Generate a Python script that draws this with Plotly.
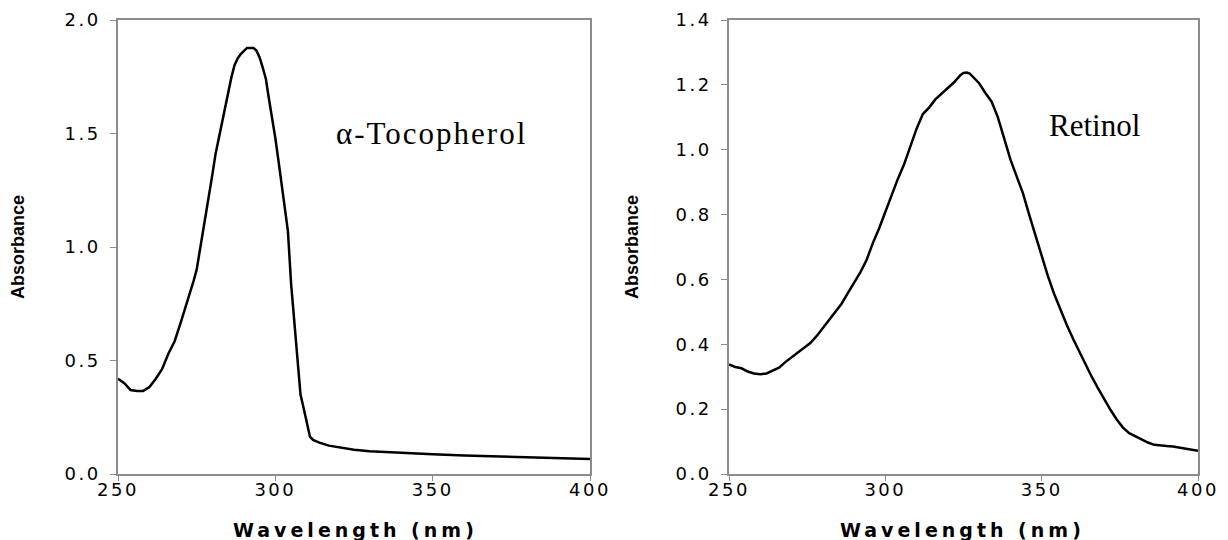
import plotly.graph_objects as go

# ---------------- data ----------------
toc_wavelength = [250, 252, 254, 256, 258, 260, 262, 264, 266, 268, 270, 272, 274, 275, 276, 277, 278, 279,
                  280, 281, 282, 283, 284, 285, 286, 287, 288, 289, 290, 291, 292, 293, 294, 295, 296, 297,
                  298, 299, 300, 301, 302, 303, 304, 305, 306, 307, 308, 309, 310, 311, 312, 314, 317, 320,
                  325, 330, 340, 350, 360, 370, 380, 390, 400]
toc_absorbance = [0.42, 0.40, 0.37, 0.366, 0.366, 0.383, 0.42, 0.462, 0.53, 0.585, 0.67, 0.755, 0.85, 0.90,
                  0.98, 1.07, 1.15, 1.23, 1.32, 1.41, 1.48, 1.55, 1.62, 1.68, 1.745, 1.80, 1.83, 1.85, 1.865,
                  1.877, 1.877, 1.877, 1.865, 1.835, 1.79, 1.74, 1.65, 1.57, 1.48, 1.38, 1.27, 1.18, 1.07,
                  0.84, 0.67, 0.49, 0.35, 0.29, 0.23, 0.165, 0.15, 0.138, 0.125, 0.117, 0.107, 0.10, 0.092,
                  0.087, 0.081, 0.077, 0.075, 0.072, 0.066]

ret_wavelength = [250, 252, 254, 256, 258, 260, 262, 264, 266, 268, 270, 272, 274, 276, 278, 280, 282, 284,
                  286, 288, 290, 292, 294, 296, 298, 300, 302, 304, 306, 308, 310, 312, 314, 316, 318, 320,
                  322, 324, 325, 326, 327, 328, 330, 332, 334, 336, 338, 340, 342, 344, 346, 348, 350, 352,
                  354, 356, 358, 360, 362, 364, 366, 368, 370, 372, 374, 376, 378, 380, 382, 384, 386, 388,
                  390, 392, 394, 396, 398, 400]
ret_absorbance = [0.338, 0.33, 0.326, 0.316, 0.31, 0.308, 0.31, 0.318, 0.328, 0.345, 0.36, 0.375, 0.39,
                  0.404, 0.425, 0.45, 0.473, 0.497, 0.525, 0.558, 0.59, 0.622, 0.66, 0.712, 0.757, 0.81,
                  0.86, 0.91, 0.955, 1.01, 1.065, 1.11, 1.13, 1.155, 1.173, 1.19, 1.208, 1.23, 1.237,
                  1.238, 1.235, 1.225, 1.205, 1.175, 1.148, 1.10, 1.035, 0.97, 0.918, 0.866, 0.80, 0.735,
                  0.67, 0.61, 0.555, 0.505, 0.46, 0.418, 0.377, 0.338, 0.30, 0.265, 0.23, 0.198, 0.168,
                  0.143, 0.126, 0.116, 0.105, 0.097, 0.09, 0.087, 0.086, 0.085, 0.082, 0.078, 0.075, 0.072]

x_ticks = [250, 300, 350, 400]
toc_y_ticks = [0.0, 0.5, 1.0, 1.5, 2.0]
ret_y_ticks = [0.0, 0.2, 0.4, 0.6, 0.8, 1.0, 1.2, 1.4]

x_title = "Wavelength (nm)"
y_title = "Absorbance"
toc_label = "α-Tocopherol"
ret_label = "Retinol"

# ---------------- figure ----------------
W, H = 1228, 540
FRAME = "#8c8c8c"
TICKFONT = dict(family="DejaVu Sans", size=18, color="black")

fig = go.Figure()
fig.add_trace(go.Scatter(x=toc_wavelength, y=toc_absorbance, mode="lines",
                         line=dict(color="black", width=2.5), xaxis="x", yaxis="y", showlegend=False))
fig.add_trace(go.Scatter(x=ret_wavelength, y=ret_absorbance, mode="lines",
                         line=dict(color="black", width=2.5), xaxis="x2", yaxis="y2", showlegend=False))

def xax(domain, anchor):
    return dict(domain=domain, anchor=anchor, range=[250, 400], tickvals=x_ticks, automargin=False,
                showgrid=False, zeroline=False, showline=True, linecolor=FRAME, linewidth=1.5,
                mirror=True, ticks="outside", ticklen=5, tickcolor=FRAME, tickwidth=1,
                tickfont=TICKFONT, ticklabelstandoff=-6)

def yax(domain, anchor, rng, ticks):
    return dict(domain=domain, anchor=anchor, range=rng, tickvals=ticks, tickformat=".1f", automargin=False,
                showgrid=False, zeroline=False, showline=True, linecolor=FRAME, linewidth=1.5,
                mirror=True, ticks="outside", ticklen=6, tickcolor=FRAME, tickwidth=1,
                tickfont=TICKFONT, ticklabelstandoff=6)

ydom = [1 - 474 / H, 1 - 20 / H]
fig.update_layout(
    width=W, height=H, margin=dict(l=0, r=0, t=0, b=0, autoexpand=False),
    paper_bgcolor="white", plot_bgcolor="white",
    xaxis=xax([118 / W, 590 / W], "y"),
    yaxis=yax(ydom, "x", [0, 2.0], toc_y_ticks),
    xaxis2=xax([729 / W, 1198 / W], "y2"),
    yaxis2=yax(ydom, "x2", [0, 1.4], ret_y_ticks),
)

ann = []
for xc in [355 / W, 962 / W]:
    ann.append(dict(text="<b>" + x_title + "</b>", xref="paper", yref="paper", x=xc, y=1 - 530 / H,
                    xanchor="center", yanchor="middle", showarrow=False,
                    font=dict(family="DejaVu Sans", size=19, color="black")))
for xc in [18 / W, 632 / W]:
    ann.append(dict(text="<b>" + y_title + "</b>", xref="paper", yref="paper", x=xc, y=1 - 247 / H,
                    xanchor="center", yanchor="middle", showarrow=False, textangle=-90,
                    font=dict(family="Liberation Sans", size=18, color="black")))
ann.append(dict(text=toc_label, xref="x", yref="y", x=322.6, y=1.50, xanchor="left", yanchor="middle",
                showarrow=False, font=dict(family="Liberation Serif", size=31, color="black")))
ann.append(dict(text=ret_label, xref="x2", yref="y2", x=351.8, y=1.076, xanchor="left", yanchor="middle",
                showarrow=False, font=dict(family="Liberation Serif", size=31, color="black")))
fig.update_layout(annotations=ann)

post = """
document.documentElement.style.margin = '0';
document.body.style.margin = '0';
document.body.style.padding = '0';
var gd = document.getElementById('{plot_id}');
function spacing(){
  gd.querySelectorAll('g.xtick text, g.ytick text, g.x2tick text, g.y2tick text').forEach(function(t){
    t.style.letterSpacing = '2.5px';
  });
  gd.querySelectorAll('.annotation-text').forEach(function(t){
    if (t.textContent.indexOf('Wavelength') >= 0) { t.style.letterSpacing = '4px'; }
    if (t.textContent.indexOf('Tocopherol') >= 0) { t.style.letterSpacing = '2px'; }
  });
}
spacing();
gd.on('plotly_afterplot', spacing);
"""
fig.write_html("out.html", post_script=post, config={"displayModeBar": False})
